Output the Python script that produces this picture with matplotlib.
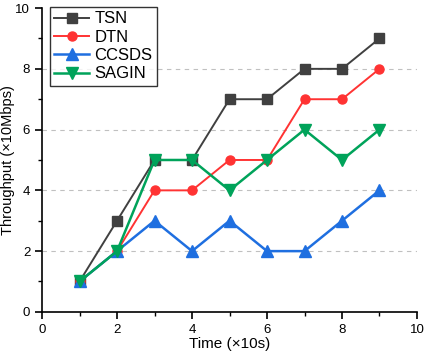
import matplotlib
matplotlib.use("Agg")
import matplotlib.pyplot as plt
from matplotlib.ticker import MultipleLocator

plt.rcParams['font.family'] = ['Liberation Sans', 'DejaVu Sans']

x = [1, 2, 3, 4, 5, 6, 7, 8, 9]
tsn = [1, 3, 5, 5, 7, 7, 8, 8, 9]
dtn = [1, 2, 4, 4, 5, 5, 7, 7, 8]
ccsds = [1, 2, 3, 2, 3, 2, 2, 3, 4]
sagin = [1, 2, 5, 5, 4, 5, 6, 5, 6]

fig = plt.figure(figsize=(4.29, 3.52), dpi=100)
ax = fig.add_axes([0.098, 0.114, 0.874, 0.863])

ax.plot(x, tsn, color='#404040', marker='s', ms=6.5, lw=1.4, label='TSN')
ax.plot(x, dtn, color='#ff3333', marker='o', ms=6.5, lw=1.4, label='DTN')
ax.plot(x, ccsds, color='#1f6fe0', marker='^', ms=8, lw=1.8, label='CCSDS')
ax.plot(x, sagin, color='#00a35a', marker='v', ms=8, lw=1.8, label='SAGIN')

ax.set_xlim(0, 10)
ax.set_ylim(0, 10)
ax.xaxis.set_major_locator(MultipleLocator(2))
ax.xaxis.set_minor_locator(MultipleLocator(1))
ax.yaxis.set_major_locator(MultipleLocator(2))
ax.yaxis.set_minor_locator(MultipleLocator(1))
for yv in [2, 4, 6, 8]:
    ax.axhline(yv, color='#c0c0c0', lw=0.8, ls=(0, (4, 4)), zorder=0)

ax.spines['top'].set_visible(False)
ax.spines['right'].set_visible(False)
ax.spines['left'].set_linewidth(1.2)
ax.spines['bottom'].set_linewidth(1.2)
ax.tick_params(which='major', direction='out', length=5, width=1.2, labelsize=9.5)
ax.tick_params(which='minor', direction='out', length=3, width=1.0)

ax.set_xlabel('Time (\u00d710s)', fontsize=11, labelpad=1)
ax.set_ylabel('Throughput (\u00d710Mbps)', fontsize=10.5)
ax.yaxis.set_label_coords(-0.073, 0.5)

leg = ax.legend(loc='upper left', bbox_to_anchor=(0.022, 1.003), fontsize=12,
                frameon=True, fancybox=False, edgecolor='black',
                handlelength=2.1, borderpad=0.25, labelspacing=0.2,
                handletextpad=0.3, borderaxespad=0)
leg.get_frame().set_linewidth(1.0)

fig.savefig('out.png', dpi=100)
